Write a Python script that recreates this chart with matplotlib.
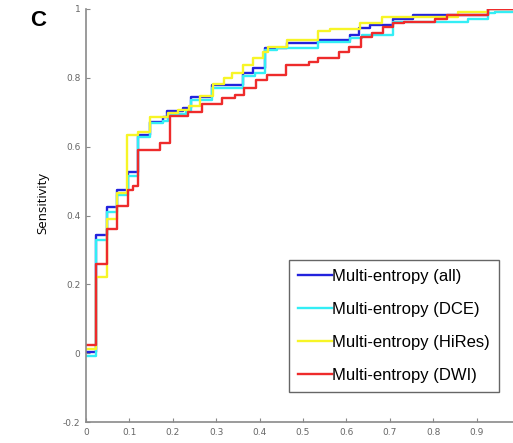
import matplotlib
matplotlib.use('Agg')
import matplotlib.pyplot as plt

# ROC step curves (x = 1 - specificity, y = sensitivity)
all_x = [0, 0.023, 0.048, 0.071, 0.097, 0.12, 0.147, 0.177, 0.187, 0.223, 0.242,
         0.29, 0.362, 0.385, 0.412, 0.463, 0.535, 0.608, 0.63, 0.654, 0.707,
         0.753, 0.926, 1.0]
all_y = [0.003, 0.342, 0.425, 0.473, 0.526, 0.635, 0.673, 0.686, 0.704, 0.713,
         0.744, 0.78, 0.815, 0.828, 0.886, 0.90, 0.91, 0.925, 0.944, 0.954,
         0.971, 0.983, 1.0, 1.0]

dce_x = [0, 0.023, 0.048, 0.071, 0.097, 0.12, 0.147, 0.177, 0.19, 0.23, 0.242,
         0.29, 0.362, 0.39, 0.412, 0.44, 0.535, 0.608, 0.636, 0.707, 0.88,
         0.926, 0.942, 1.0]
dce_y = [-0.008, 0.33, 0.41, 0.46, 0.515, 0.628, 0.668, 0.675, 0.695, 0.705,
         0.735, 0.77, 0.805, 0.814, 0.88, 0.886, 0.905, 0.915, 0.925, 0.963,
         0.97, 0.988, 0.99, 0.99]

hires_x = [0, 0.023, 0.048, 0.071, 0.094, 0.12, 0.147, 0.189, 0.212, 0.237,
           0.263, 0.293, 0.318, 0.336, 0.362, 0.385, 0.408, 0.42, 0.463, 0.535,
           0.562, 0.631, 0.682, 0.857, 0.926, 1.0]
hires_y = [0.012, 0.22, 0.39, 0.466, 0.635, 0.643, 0.686, 0.698, 0.707, 0.719,
           0.746, 0.783, 0.80, 0.814, 0.838, 0.858, 0.876, 0.89, 0.91, 0.935,
           0.942, 0.958, 0.978, 0.99, 1.0, 1.0]

dwi_x = [0, 0.023, 0.048, 0.071, 0.097, 0.108, 0.12, 0.17, 0.194, 0.235, 0.267,
         0.313, 0.343, 0.364, 0.392, 0.417, 0.461, 0.514, 0.535, 0.583, 0.606,
         0.634, 0.659, 0.684, 0.707, 0.733, 0.804, 0.832, 0.926, 1.0]
dwi_y = [0.023, 0.26, 0.362, 0.427, 0.475, 0.485, 0.589, 0.61, 0.69, 0.70, 0.725,
         0.742, 0.75, 0.77, 0.795, 0.807, 0.838, 0.847, 0.857, 0.876, 0.889,
         0.92, 0.929, 0.947, 0.958, 0.963, 0.971, 0.983, 1.0, 1.0]

labels = ['Multi-entropy (all)', 'Multi-entropy (DCE)',
          'Multi-entropy (HiRes)', 'Multi-entropy (DWI)']
xticks = [0, 0.1, 0.2, 0.3, 0.4, 0.5, 0.6, 0.7, 0.8, 0.9]
yticks = [-0.2, 0, 0.2, 0.4, 0.6, 0.8, 1]

# =========================
# FIGURE
# =========================
fig = plt.figure(figsize=(5.13, 4.43), dpi=100)
ax = fig.add_axes([86 / 513, 1 - 422 / 443, 434 / 513, 413 / 443])

curves = [(all_x, all_y, '#2222dd'),
          (dce_x, dce_y, '#33eef5'),
          (hires_x, hires_y, '#f7f526'),
          (dwi_x, dwi_y, '#ee2b2b')]
for (xs, ys, col), lab in zip(curves, labels):
    ax.plot(xs, ys, drawstyle='steps-post', color=col, lw=1.7, label=lab)

ax.set_xlim(0, 1)
ax.set_ylim(-0.2, 1)
ax.set_xticks(xticks)
ax.set_xticklabels(['0'] + [f'{v:g}' for v in xticks[1:]])
ax.set_yticks(yticks)
ax.set_yticklabels([f'{v:g}' for v in yticks])

for side in ['top', 'right']:
    ax.spines[side].set_visible(False)
for side in ['left', 'bottom']:
    ax.spines[side].set_color('#8a8a8a')
    ax.spines[side].set_linewidth(1.2)
ax.tick_params(direction='in', length=3, width=0.8, color='#8a8a8a',
               labelcolor='#666666', labelsize=6.5, pad=4)

ax.set_ylabel('Sensitivity', fontsize=9.5, family='Open Sans')
ax.yaxis.set_label_coords(-0.085, 0.53)

leg = ax.legend(loc='upper left', bbox_to_anchor=(289 / 513, 1 - 260 / 443),
                bbox_transform=fig.transFigure, fancybox=False, framealpha=1,
                edgecolor='#666666', prop={'family': 'Liberation Sans', 'size': 12},
                handlelength=2.0, handletextpad=0.05, labelspacing=1.08,
                borderpad=0.55, borderaxespad=0)
leg.get_frame().set_linewidth(1.0)

fig.text(30 / 513, 1 - 20 / 443, 'C', fontsize=16, fontweight='bold',
         family='Liberation Sans', va='center', ha='left')

fig.savefig('out.png', dpi=100)
